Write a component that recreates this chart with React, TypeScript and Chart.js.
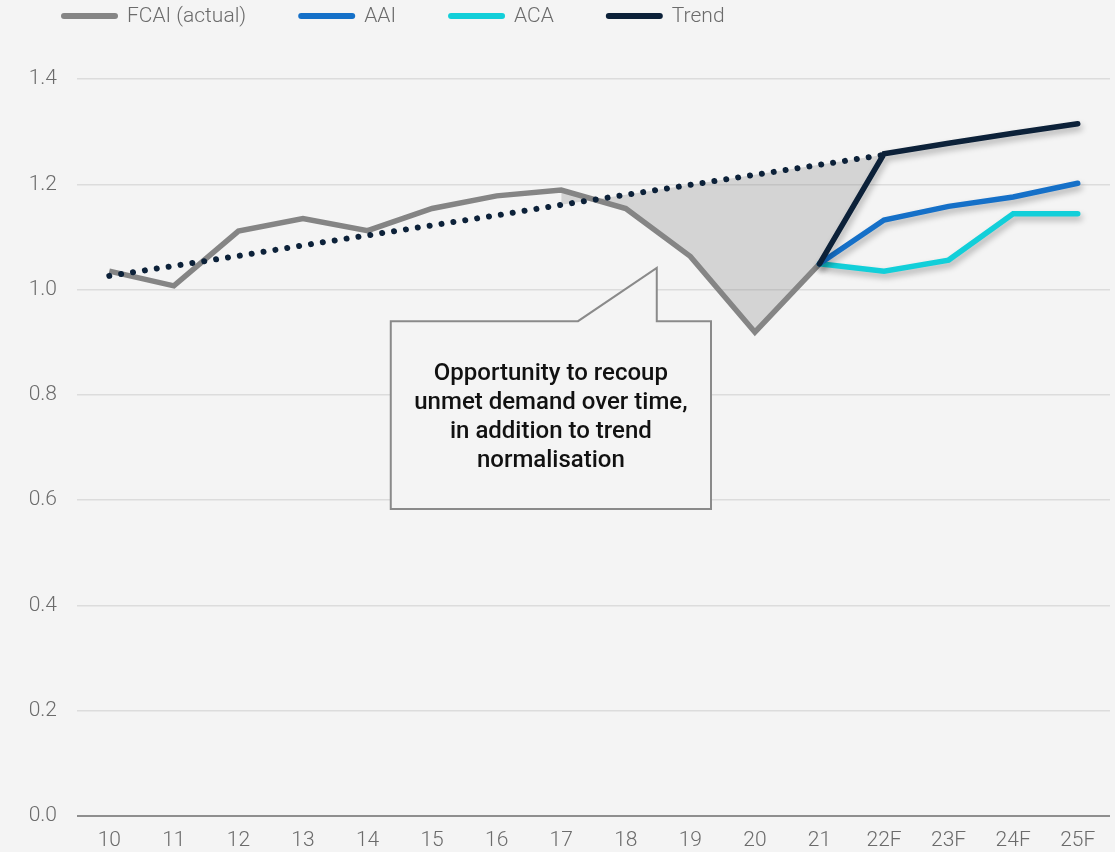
import React, { useEffect, useRef } from 'react';
import { Chart, registerables } from 'chart.js';

Chart.register(...registerables);

// ---------- data ----------
const categories = ['10', '11', '12', '13', '14', '15', '16', '17', '18', '19', '20', '21', '22F', '23F', '24F', '25F'];

const fcaiActual = [1.035, 1.007, 1.111, 1.135, 1.112, 1.154, 1.178, 1.189, 1.154, 1.063, 0.919, 1.049, null, null, null, null];
const trendDotted = [1.026, 1.045, 1.064, 1.084, 1.103, 1.122, 1.141, 1.161, 1.180, 1.199, 1.218, 1.237, 1.256, null, null, null];
const trendForecast = [null, null, null, null, null, null, null, null, null, null, null, 1.049, 1.258, 1.278, 1.297, 1.315];
const aaiForecast = [null, null, null, null, null, null, null, null, null, null, null, 1.049, 1.132, 1.158, 1.176, 1.202];
const acaForecast = [null, null, null, null, null, null, null, null, null, null, null, 1.049, 1.035, 1.056, 1.144, 1.144];

// shaded "opportunity" gap between trend and actual
const gapUpper = [null, null, null, null, null, null, null, 1.161, 1.180, 1.199, 1.218, 1.237, 1.256, null, null, null];
const gapLower = [null, null, null, null, null, null, null, 1.189, 1.154, 1.063, 0.919, 1.049, 1.258, null, null, null];

const yMin = 0;
const yMax = 1.4;
const yStep = 0.2;

const legendLabels = ['FCAI (actual)', 'AAI', 'ACA', 'Trend'];
const calloutLines = ['Opportunity to recoup', 'unmet demand over time,', 'in addition to trend', 'normalisation'];

// ---------- styles ----------
const COLORS = {
  fcai: '#858585',
  aai: '#1570c8',
  aca: '#12cfd9',
  trend: '#0c2139',
  fill: 'rgba(140,140,140,0.3)',
  bg: '#f4f4f4',
  text: '#6b6b6b',
  grid: '#dcdcdc',
  zero: '#8e8e8e',
};
const legendColors = [COLORS.fcai, COLORS.aai, COLORS.aca, COLORS.trend];
const FONT = 'Roboto';

// callout anchor in data units (x = category index, y = value)
const callout = {
  left: 4.36, right: 9.32, top: 0.94, bottom: 0.583,
  notchStart: 7.26, notchEnd: 8.48, tipY: 1.041,
  textX: 6.84, textY: 0.839,
};

const shadowPlugin = {
  id: 'lineShadow',
  beforeDatasetDraw(chart: any, args: any) {
    const ds = chart.data.datasets[args.index];
    if (ds.shadow) {
      const ctx = chart.ctx;
      ctx.save();
      ctx.shadowColor = 'rgba(0,0,0,0.28)';
      ctx.shadowBlur = 6;
      ctx.shadowOffsetX = 2;
      ctx.shadowOffsetY = 4;
    }
  },
  afterDatasetDraw(chart: any, args: any) {
    const ds = chart.data.datasets[args.index];
    if (ds.shadow) chart.ctx.restore();
  },
};

const calloutPlugin = {
  id: 'callout',
  beforeDatasetsDraw(chart: any) {
    const { ctx, scales } = chart;
    const x = scales.x, y = scales.y;
    const L = x.getPixelForValue(callout.left);
    const R = x.getPixelForValue(callout.right);
    const T = y.getPixelForValue(callout.top);
    const B = y.getPixelForValue(callout.bottom);
    const n1 = x.getPixelForValue(callout.notchStart);
    const n2 = x.getPixelForValue(callout.notchEnd);
    const tip = y.getPixelForValue(callout.tipY);
    ctx.save();
    ctx.beginPath();
    ctx.moveTo(L, T);
    ctx.lineTo(n1, T);
    ctx.lineTo(n2, tip);
    ctx.lineTo(n2, T);
    ctx.lineTo(R, T);
    ctx.lineTo(R, B);
    ctx.lineTo(L, B);
    ctx.closePath();
    ctx.fillStyle = COLORS.bg;
    ctx.fill();
    ctx.strokeStyle = '#8a8a8a';
    ctx.lineWidth = 2;
    ctx.lineJoin = 'miter';
    ctx.stroke();

    ctx.fillStyle = '#111111';
    ctx.font = `500 24px ${FONT}`;
    ctx.textAlign = 'center';
    ctx.textBaseline = 'middle';
    const cx = x.getPixelForValue(callout.textX);
    const cy = y.getPixelForValue(callout.textY);
    calloutLines.forEach((line, i) => ctx.fillText(line, cx, cy + i * 29));
    ctx.restore();
  },
};

const legendPlugin = {
  id: 'customLegend',
  afterDraw(chart: any) {
    const ctx = chart.ctx;
    ctx.save();
    ctx.font = `300 21px ${FONT}`;
    ctx.textBaseline = 'middle';
    ctx.textAlign = 'left';
    let xPos = 61;
    const yc = 16;
    legendLabels.forEach((label, i) => {
      ctx.fillStyle = legendColors[i];
      ctx.beginPath();
      (ctx as any).roundRect(xPos, yc - 3, 57, 6, 3);
      ctx.fill();
      ctx.fillStyle = COLORS.text;
      ctx.fillText(label, xPos + 66, yc + 1);
      xPos += 66 + ctx.measureText(label).width + 52;
    });
    ctx.restore();
  },
};

export default function App() {
  const ref = useRef<HTMLCanvasElement | null>(null);

  useEffect(() => {
    document.body.style.margin = '0';
    document.body.style.background = COLORS.bg;
    if (!ref.current) return;
    const line = (extra: any) => ({
      pointRadius: 0,
      pointHoverRadius: 0,
      borderWidth: 5.5,
      tension: 0,
      spanGaps: false,
      ...extra,
    });
    const chart = new Chart(ref.current, {
      type: 'line',
      data: {
        labels: categories,
        datasets: [
          line({ label: 'Trend', data: trendForecast, borderColor: COLORS.trend, borderCapStyle: 'round', shadow: true }),
          line({ label: 'AAI', data: aaiForecast, borderColor: COLORS.aai, borderCapStyle: 'round', shadow: true }),
          line({ label: 'ACA', data: acaForecast, borderColor: COLORS.aca, borderCapStyle: 'round', shadow: true }),
          line({ label: 'Trend (dotted)', data: trendDotted, borderColor: COLORS.trend, borderDash: [0.01, 12], borderCapStyle: 'round', borderWidth: 6 }),
          line({ label: 'FCAI (actual)', data: fcaiActual, borderColor: COLORS.fcai, borderCapStyle: 'butt' }),
          line({ label: 'gap upper', data: gapUpper, borderWidth: 0, borderColor: 'rgba(0,0,0,0)', backgroundColor: COLORS.fill, fill: { target: '+1', above: COLORS.fill, below: COLORS.fill } }),
          line({ label: 'gap lower', data: gapLower, borderWidth: 0, borderColor: 'rgba(0,0,0,0)', fill: false }),
        ] as any,
      },
      options: {
        responsive: false,
        animation: false,
        devicePixelRatio: 1,
        layout: { padding: { top: 79, left: 8, right: 5, bottom: 0 } },
        plugins: {
          legend: { display: false },
          tooltip: { enabled: false },
        },
        scales: {
          x: {
            type: 'category',
            offset: true,
            grid: { display: false },
            border: { display: false },
            ticks: {
              color: COLORS.text,
              font: { family: FONT, size: 21, weight: '300' as any },
              padding: 4,
              maxRotation: 0,
              autoSkip: false,
            },
            afterFit: (s: any) => { s.height = 36; },
          },
          y: {
            min: yMin,
            max: yMax,
            grid: {
              drawTicks: false,
              color: (c: any) => (c.tick && c.tick.value === 0 ? COLORS.zero : COLORS.grid),
              lineWidth: (c: any) => (c.tick && c.tick.value === 0 ? 2 : 1.5),
            },
            border: { display: false },
            ticks: {
              stepSize: yStep,
              padding: 20,
              color: COLORS.text,
              font: { family: FONT, size: 21, weight: '300' as any },
              callback: (v: any) => Number(v).toFixed(1),
            },
            afterFit: (s: any) => { s.width = 69; },
          },
        },
      },
      plugins: [shadowPlugin, calloutPlugin, legendPlugin],
    });
    return () => chart.destroy();
  }, []);

  return (
    <div style={{ width: 1115, height: 852, background: COLORS.bg }}>
      <canvas ref={ref} width={1115} height={852} style={{ display: 'block' }} />
    </div>
  );
}
